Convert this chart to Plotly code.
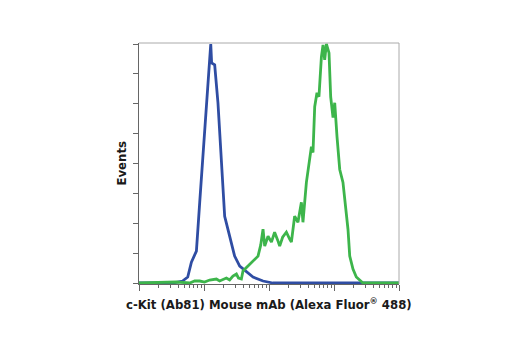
import plotly.graph_objects as go

# Fluorescence intensity (log scale) and event counts for each histogram
control_intensity = [1, 3.31, 4.68, 5.62, 6.40, 7.64, 8.59, 9.89, 11.1, 12.2, 12.7, 13.1,
                     14.6, 16.4, 18.5, 20.8, 24.8, 29.6, 35.4, 44.9, 56.8, 80.9, 115, 10000]
control_events = [0, 0, 2, 6, 21, 32, 81, 137, 187, 224, 240, 221,
                   219, 181, 127, 67, 47, 27, 17, 11, 6, 2, 0, 0]

ckit_intensity = [1, 3.76, 6.03, 7.19, 8.59, 10.2, 12.2, 15.5, 17.4, 22.1, 24.8, 27.9,
                  31.5, 33.9, 37.6, 39.8, 47.5, 56.8, 67.8, 74.5, 80.9, 85.9, 96.6, 109,
                  122, 136, 146, 162, 185, 208, 221, 248, 279, 315, 333, 376, 423, 449,
                  475, 505, 547, 587, 640, 678, 719, 764, 838, 889, 966, 1026, 1112, 1225,
                  1374, 1552, 1641, 1746, 1959, 2203, 2642, 2793, 10000]
ckit_events = [0, 1, 0, 2, 2, 1, 3, 4, 2, 5, 3, 7,
               9, 5, 4, 12, 17, 22, 27, 38, 54, 37, 47, 41,
               51, 43, 37, 46, 51, 44, 41, 67, 61, 81, 61, 101, 127, 137,
               131, 177, 191, 187, 227, 239, 224, 240, 231, 187, 166, 181, 147, 114,
               101, 71, 54, 27, 14, 6, 2, 0, 0]

x_title = "c-Kit (Ab81) Mouse mAb (Alexa Fluor<sup>®</sup> 488)"
y_title = "Events"

BLUE = "#2f4da3"
GREEN = "#3db54b"
FONT = "Liberation Sans Narrow, DejaVu Sans Condensed, Arial Narrow, sans-serif"

fig = go.Figure()
fig.add_trace(go.Scatter(x=control_intensity, y=control_events, mode="lines",
                         line=dict(color=BLUE, width=2.8), showlegend=False))
fig.add_trace(go.Scatter(x=ckit_intensity, y=ckit_events, mode="lines",
                         line=dict(color=GREEN, width=2.8), showlegend=False))

fig.update_layout(
    width=520, height=350,
    margin=dict(l=139, r=121, t=43, b=66),
    paper_bgcolor="white", plot_bgcolor="white",
    font=dict(family=FONT, size=13, color="#1a1a1a"),
)

fig.update_xaxes(
    type="log", range=[0, 4], dtick=1,
    showgrid=False, zeroline=False, showticklabels=False,
    showline=True, linecolor="#666666", linewidth=1,
    ticks="outside", ticklen=6, tickcolor="#666666",
    minor=dict(ticks="outside", ticklen=3, tickcolor="#666666", showgrid=False),
)
fig.update_yaxes(
    range=[-1, 241], dtick=30, tick0=0,
    showgrid=False, zeroline=False, showticklabels=False,
    showline=True, linecolor="#666666", linewidth=1,
    ticks="outside", ticklen=5, tickcolor="#666666",
)

# light frame on the top and right edges
fig.add_shape(type="line", xref="paper", yref="paper", x0=0, x1=1, y0=1, y1=1,
              line=dict(color="#aaaaaa", width=1))
fig.add_shape(type="line", xref="paper", yref="paper", x0=1, x1=1, y0=0, y1=1,
              line=dict(color="#aaaaaa", width=1))

fig.add_annotation(text="<b>" + x_title + "</b>", xref="paper", yref="paper",
                   x=0.5, y=0, yshift=-20, xanchor="center", yanchor="middle",
                   showarrow=False, font=dict(family=FONT, size=13, color="#1a1a1a"))
fig.add_annotation(text="<b>" + y_title + "</b>", xref="paper", yref="paper",
                   x=0, y=0.5, xshift=-18, xanchor="center", yanchor="middle",
                   textangle=-90, showarrow=False,
                   font=dict(family=FONT, size=13, color="#1a1a1a"))

fig.write_html("out.html")
